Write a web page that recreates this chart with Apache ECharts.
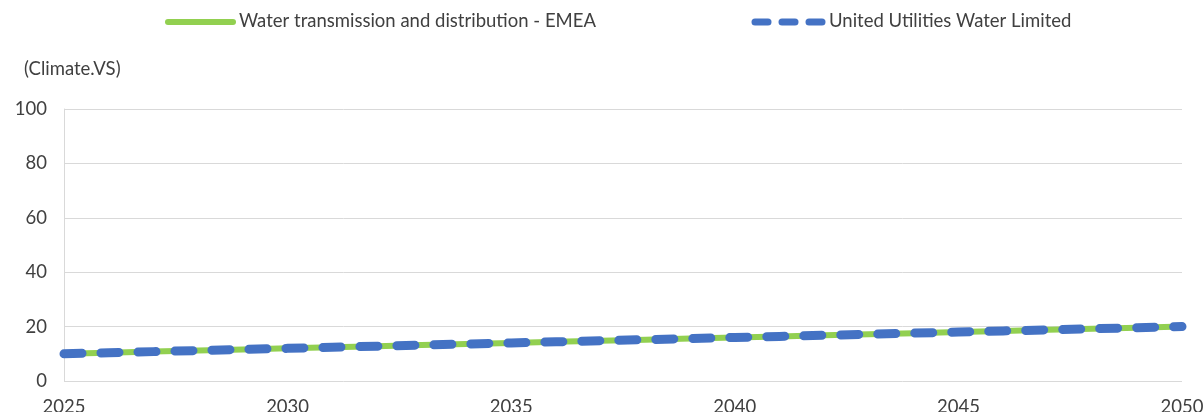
<!DOCTYPE html>
<html>
<head>
<meta charset="utf-8">
<script src="https://cdn.jsdelivr.net/npm/echarts@6/dist/echarts.min.js"></script>
<style>
  html, body { margin: 0; padding: 0; background: #fff; }
  #chart { width: 1204px; height: 412px; }
</style>
</head>
<body>
<div id="chart"></div>
<script>
const years = [2025, 2026, 2027, 2028, 2029, 2030, 2031, 2032, 2033, 2034, 2035, 2036, 2037,
  2038, 2039, 2040, 2041, 2042, 2043, 2044, 2045, 2046, 2047, 2048, 2049, 2050];
const sectorValues = [10, 10.4, 10.8, 11.2, 11.6, 12, 12.4, 12.8, 13.2, 13.6, 14, 14.4, 14.8,
  15.2, 15.6, 16, 16.4, 16.8, 17.2, 17.6, 18, 18.4, 18.8, 19.2, 19.6, 20];
const companyValues = [10, 10.4, 10.8, 11.2, 11.6, 12, 12.4, 12.8, 13.2, 13.6, 14, 14.4, 14.8,
  15.2, 15.6, 16, 16.4, 16.8, 17.2, 17.6, 18, 18.4, 18.8, 19.2, 19.6, 20];
const seriesNames = ["Water transmission and distribution - EMEA", "United Utilities Water Limited"];
const yTicks = [0, 20, 40, 60, 80, 100];

const font = "Lato, 'Open Sans', sans-serif";
const textColor = "#404040";
const green = "#92D050";
const blue = "#4472C4";

// legend drawn by hand so the icons look like the thick line / dashed line
const legendText = (x, text) => ({
  type: "text",
  left: x,
  top: 12,
  style: { text: text, fontFamily: font, fontSize: 18.5, fill: textColor }
});
const seg = (x1, x2, color, w) => ({
  type: "line",
  shape: { x1: x1, y1: 22, x2: x2, y2: 22 },
  style: { stroke: color, lineWidth: w, lineCap: "round" }
});

const chart = echarts.init(document.getElementById("chart"));
chart.setOption({
  animation: false,
  backgroundColor: "#fff",
  textStyle: { fontFamily: font },
  title: {
    text: "(Climate.VS)",
    left: 19,
    top: 55,
    textStyle: { fontFamily: font, fontSize: 18.5, fontWeight: "normal", color: textColor }
  },
  graphic: [
    seg(168, 233, green, 6),
    legendText(239, seriesNames[0]),
    seg(755, 768, blue, 7),
    seg(782, 795, blue, 7),
    seg(809, 822, blue, 7),
    legendText(829, seriesNames[1])
  ],
  // labels at the bottom are allowed to run off the edge like in the original
  grid: { left: 64, right: 22, top: 109, bottom: 31, outerBoundsMode: "none" },
  xAxis: {
    type: "value",
    min: years[0],
    max: years[years.length - 1],
    interval: 5,
    axisLine: { show: false },
    axisTick: { show: false },
    splitLine: { show: false },
    axisLabel: {
      margin: 17,
      fontFamily: font,
      fontSize: 18.5,
      color: textColor,
      formatter: v => String(v)
    }
  },
  yAxis: {
    type: "value",
    min: yTicks[0],
    max: yTicks[yTicks.length - 1],
    interval: 20,
    axisLine: { show: true, lineStyle: { color: "#d9d9d9", width: 1 } },
    axisTick: { show: false },
    splitLine: { lineStyle: { color: "#d9d9d9", width: 1 } },
    axisLabel: { margin: 17, fontFamily: font, fontSize: 18.5, color: textColor }
  },
  series: [
    {
      name: seriesNames[0],
      type: "line",
      symbol: "none",
      data: years.map((y, i) => [y, sectorValues[i]]),
      lineStyle: { color: green, width: 6, cap: "round" },
      z: 2
    },
    {
      name: seriesNames[1],
      type: "line",
      symbol: "none",
      data: years.map((y, i) => [y, companyValues[i]]),
      lineStyle: { color: blue, width: 9, type: [18, 19], cap: "round" },
      z: 3
    }
  ]
});
</script>
</body>
</html>
